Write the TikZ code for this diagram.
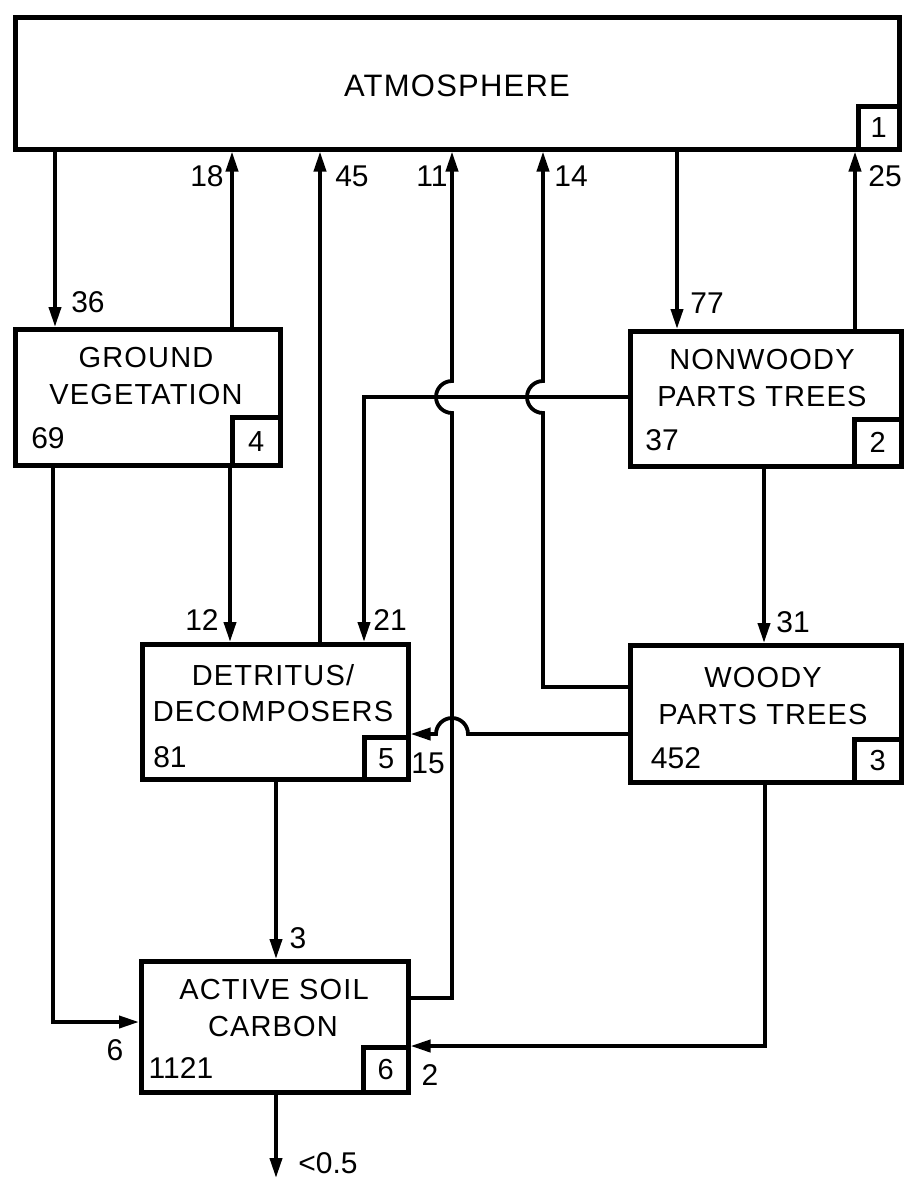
\documentclass[tikz,border=0pt]{standalone}
\usepackage{fontspec}
\setmainfont{Liberation Sans}
\newfontfamily\boxfont[LetterSpace=4]{Liberation Sans}
\usetikzlibrary{arrows.meta}
\begin{document}
\begin{tikzpicture}[x=1pt,y=1pt,
  box/.style={draw, line width=4.5pt, inner sep=0pt, anchor=north west},
  idbox/.style={draw, line width=4.5pt, inner sep=0pt, anchor=south east,
                font=\fontsize{29}{34}\selectfont},
  conn/.style={line width=3.8pt, line join=miter},
  flow/.style={conn, -{Triangle[length=20pt,width=12pt]}},
  txt/.style={font=\boxfont\fontsize{29}{34}\selectfont, inner sep=0pt},
  num/.style={font=\fontsize{30}{35}\selectfont, inner sep=0pt}]
\useasboundingbox (0,0) rectangle (910,-1178);

% compartments
\node[box, minimum width=884pt, minimum height=132pt] (atm) at (13,-15) {};
\node[box, minimum width=265pt, minimum height=136pt] (gv) at (13,-327) {};
\node[box, minimum width=271pt, minimum height=135pt] (nw) at (628,-329) {};
\node[box, minimum width=266pt, minimum height=135pt] (det) at (140,-642) {};
\node[box, minimum width=271pt, minimum height=137pt] (wd) at (628,-643) {};
\node[box, minimum width=267pt, minimum height=131pt] (soil) at (139,-959) {};

% id boxes
\node[idbox, minimum width=41pt, minimum height=43pt] (atmid) at (atm.south east) {1};
\node[idbox, minimum width=48pt, minimum height=48pt] (gvid) at (gv.south east) {4};
\node[idbox, minimum width=47pt, minimum height=47pt] (nwid) at (nw.south east) {2};
\node[idbox, minimum width=44pt, minimum height=42pt] (detid) at (det.south east) {5};
\node[idbox, minimum width=47pt, minimum height=43pt] (wdid) at (wd.south east) {3};
\node[idbox, minimum width=45pt, minimum height=45pt] (soilid) at (soil.south east) {6};

% texts in boxes
\node[txt, font=\boxfont\fontsize{31}{36}\selectfont] (atmT) at (457,-86) {ATMOSPHERE};
\node[txt] (gvT1) at (146,-358) {GROUND};
\node[txt] (gvT2) at (146,-395) {VEGETATION};
\node[num] (gvN) at (48,-438) {69};
\node[txt] (nwT1) at (762,-360) {NONWOODY};
\node[txt] (nwT2) at (762,-397) {PARTS TREES};
\node[num] (nwN) at (662,-440) {37};
\node[txt] (detT1) at (273,-675) {DETRITUS/};
\node[txt] (detT2) at (273,-712) {DECOMPOSERS};
\node[num] (detN) at (170,-757) {81};
\node[txt] (wdT1) at (763,-678) {WOODY};
\node[txt] (wdT2) at (763,-715) {PARTS TREES};
\node[num] (wdN) at (676,-758) {452};
\node[txt] (soilT1) at (274,-990) {ACTIVE SOIL};
\node[txt] (soilT2) at (273,-1027) {CARBON};
\node[num] (soilN) at (181,-1068) {1121};

% coordinates for connector columns / rows
\coordinate (c11) at (452,-998);
\coordinate (c14) at (543,-687);
\coordinate (c21) at (364,-397);
\coordinate (c6) at (53,-1022);
\coordinate (c2) at (765,-1046);
\coordinate (cout) at (276,-1178);

% atmosphere <-> ground vegetation
\draw[flow] (atm.south -| 55,0) -- (gv.north -| 55,0);
\draw[flow] (gv.north -| 232,0) -- (atm.south -| 232,0);
% detritus -> atmosphere
\draw[flow] (det.north -| 320,0) -- (atm.south -| 320,0);
% atmosphere <-> nonwoody
\draw[flow] (atm.south -| 677,0) -- (nw.north -| 677,0);
\draw[flow] (nw.north -| 855,0) -- (atm.south -| 855,0);
% nonwoody -> woody
\draw[flow] (nw.south -| 764,0) -- (wd.north -| 764,0);
% ground vegetation -> detritus
\draw[flow] (gv.south -| 230,0) -- (det.north -| 230,0);
% nonwoody -> detritus
\draw[flow] (nw.west |- c21) -- (c21) -- (det.north -| c21);
% detritus -> soil
\draw[flow] (det.south -| 276,0) -- (soil.north -| 276,0);
% ground vegetation -> soil
\draw[flow] (gv.south -| c6) -- (c6) -- (soil.west |- c6);
% woody -> soil
\draw[flow] (wd.south -| c2) -- (c2) -- (soil.east |- c2);
% soil -> out
\draw[flow] (soil.south -| cout) -- (cout);
% soil -> atmosphere (jump over row 397)
\draw[flow] (soil.east |- c11) -- (c11) -- (452,-413)
  arc[start angle=-90, end angle=-270, radius=16pt] -- (atm.south -| c11);
% woody -> atmosphere (jump over row 397)
\draw[flow] (wd.west |- c14) -- (c14) -- (543,-413)
  arc[start angle=-90, end angle=-270, radius=16pt] -- (atm.south -| c14);
% woody -> detritus (jump over column 452)
\draw[flow] (wd.west |- 0,-734) -- (468,-734)
  arc[start angle=0, end angle=180, radius=16pt] -- (det.east |- 0,-734);

% flow labels
\node[num] (l36) at (88,-302) {36};
\node[num] (l18) at (207,-176) {18};
\node[num] (l45) at (352,-176) {45};
\node[num] (l11) at (432,-176) {11};
\node[num] (l14) at (571,-176) {14};
\node[num] (l77) at (707,-303) {77};
\node[num] (l25) at (885,-176) {25};
\node[num] (l12) at (202,-620) {12};
\node[num] (l21) at (390,-620) {21};
\node[num] (l31) at (793,-622) {31};
\node[num] (l15) at (428,-763) {15};
\node[num] (l3) at (298,-938) {3};
\node[num] (l6) at (115,-1050) {6};
\node[num] (l2) at (430,-1075) {2};
\node[num] (lout) at (328,-1163) {<0.5};
\end{tikzpicture}
\end{document}
